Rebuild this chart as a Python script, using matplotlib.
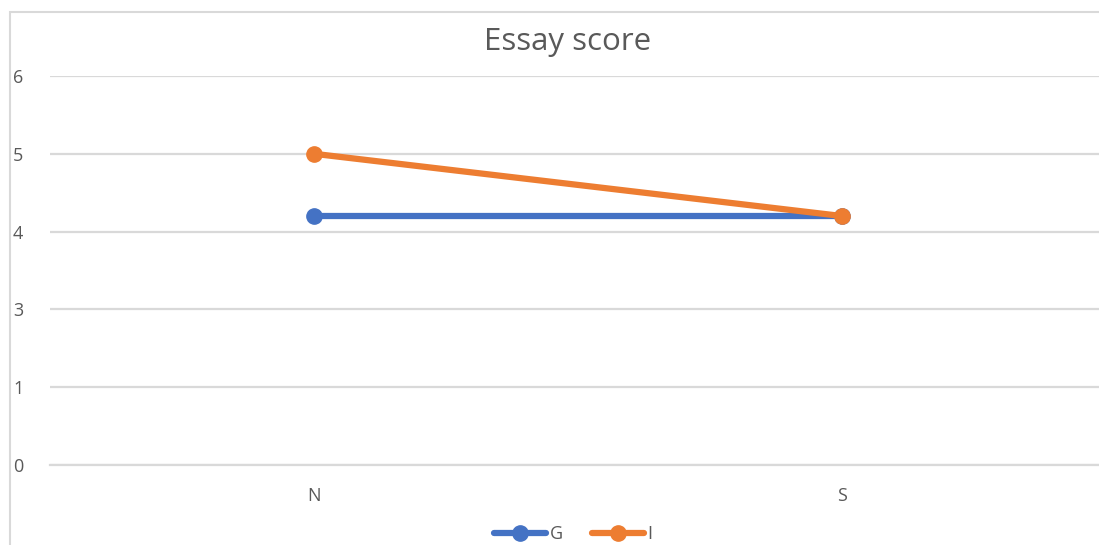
import matplotlib.pyplot as plt
import numpy as np
from matplotlib.patches import Rectangle

plt.rcParams['font.family'] = ['Open Sans', 'DejaVu Sans']

categories = ['N', 'S']
g_scores = [4.2, 4.2]
i_scores = [5.0, 4.2]
y_ticks = [0, 1, 3, 4, 5, 6]

W, H = 1099, 545
fig = plt.figure(figsize=(W / 100, H / 100), dpi=100)

# plot area in pixels (left, top, right, bottom) -> figure fractions
left, top, right, bottom = 50, 76, 1106, 465
ax = fig.add_axes([left / W, 1 - bottom / H, (right - left) / W, (bottom - top) / H])

# y labels are evenly spaced gridlines, so map values onto those slots
slots = np.arange(len(y_ticks))
def fwd(v):
    return np.interp(v, y_ticks, slots)
def inv(p):
    return np.interp(p, slots, y_ticks)
ax.set_yscale('function', functions=(fwd, inv))

x = np.arange(len(categories))
ax.plot(x, g_scores, color='#4472C4', lw=4.5, marker='o', ms=11, label='G', solid_capstyle='round', zorder=3)
ax.plot(x, i_scores, color='#ED7D31', lw=4.5, marker='o', ms=11, label='I', solid_capstyle='round', zorder=4)

ax.set_xlim(-0.5, 1.5)
ax.set_ylim(0, 6)
ax.set_yticks(y_ticks)
ax.set_yticklabels([str(t) for t in y_ticks])
ax.set_xticks(x)
ax.set_xticklabels(categories)
ax.yaxis.grid(True, color='#D9D9D9', lw=1.6)
ax.set_axisbelow(True)
for s in ['top', 'right', 'left']:
    ax.spines[s].set_visible(False)
ax.spines['bottom'].set_color('#D9D9D9')
ax.spines['bottom'].set_linewidth(1.6)
ax.tick_params(axis='both', length=0, labelsize=13, labelcolor='#595959')
ax.tick_params(axis='y', pad=23)
ax.tick_params(axis='x', pad=16)
for lbl in ax.get_yticklabels():
    lbl.set_horizontalalignment('center')
ax.patch.set_alpha(0)

fig.text(568 / W, 1 - 42 / H, 'Essay score', ha='center', va='center', fontsize=22.5, color='#595959')

# chart outline
fig.patches.append(Rectangle((10 / W, -0.1), 1.2, 1.1 - 12 / H, transform=fig.transFigure,
                             fill=False, ec='#D9D9D9', lw=1.5, clip_on=False))

fig.legend(loc='center', bbox_to_anchor=(573 / W, 1 - 534 / H), ncol=2, frameon=False,
           fontsize=13, handlelength=2.9, columnspacing=1.6, handletextpad=0.2, labelcolor='#595959')

fig.savefig('out.png', dpi=100)
